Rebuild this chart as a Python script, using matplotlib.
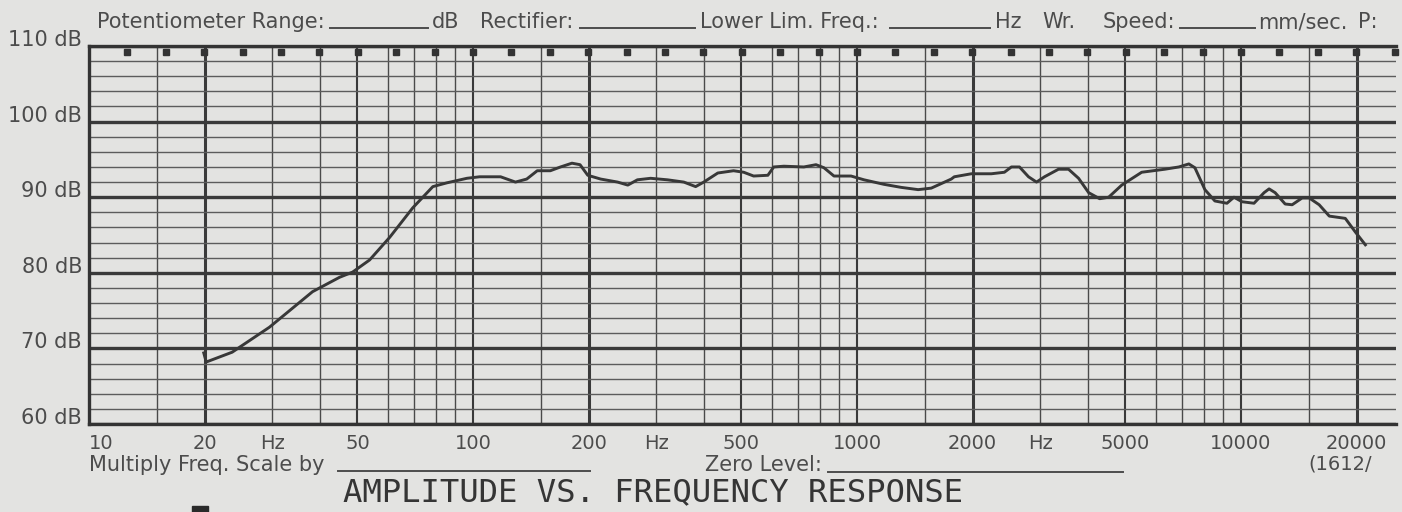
import numpy as np
import matplotlib.pyplot as plt
from matplotlib.lines import Line2D
from matplotlib.patches import Rectangle

# chart-recorder trace
freq_hz = [19.9, 20.2, 23.6, 29.5, 38.2, 44.9, 48.6, 53.8, 60.7, 69.7, 78.6, 85.5,
           96.4, 104, 118, 129, 138, 147, 159, 169, 181, 190, 199, 215, 238, 253,
           268, 290, 321, 354, 380, 399, 434, 477, 507, 538, 586, 607, 645, 727,
           782, 820, 871, 965, 1043, 1176, 1303, 1443, 1561, 1760, 1792, 1985,
           2238, 2420, 2524, 2649, 2797, 2934, 3078, 3348, 3555, 3776, 4011,
           4285, 4523, 4891, 5513, 6332, 6888, 7314, 7584, 8054, 8551, 9192,
           9588, 10060, 10812, 11484, 11834, 12270, 13030, 13590, 14430, 15050,
           15980, 16980, 18690, 19850, 21080]
level_db = [69.4, 68.2, 69.5, 72.8, 77.5, 79.4, 80.1, 81.7, 84.7, 88.6, 91.4, 91.9,
            92.5, 92.7, 92.7, 92.0, 92.4, 93.5, 93.5, 94.0, 94.5, 94.3, 92.9, 92.4,
            92.0, 91.6, 92.3, 92.5, 92.3, 92.0, 91.4, 92.0, 93.2, 93.5, 93.3, 92.8,
            92.9, 94.0, 94.1, 94.0, 94.3, 93.9, 92.8, 92.8, 92.3, 91.7, 91.3, 91.0,
            91.2, 92.4, 92.7, 93.1, 93.1, 93.3, 94.0, 94.0, 92.7, 92.0, 92.7, 93.7,
            93.7, 92.5, 90.6, 89.8, 90.0, 91.6, 93.3, 93.7, 94.0, 94.4, 93.9, 91.0,
            89.5, 89.2, 90.0, 89.4, 89.2, 90.6, 91.1, 90.6, 89.1, 89.0, 89.9, 89.9,
            89.0, 87.5, 87.2, 85.4, 83.7]

tick_freqs = [10, 20, 30, 50, 100, 200, 300, 500, 1000, 2000, 3000, 5000, 10000, 20000]
tick_labels = ['10', '20', 'Hz', '50', '100', '200', 'Hz', '500', '1000', '2000', 'Hz',
               '5000', '10000', '20000']
db_ticks = [60, 70, 80, 90, 100, 110]
db_labels = ['60 dB', '70 dB', '80 dB', '90 dB', '100 dB', '110 dB']

W, H = 1402, 512
paper = '#e3e3e1'
ink = '#3a3a3a'
txt = '#4c4c4c'

fig = plt.figure(figsize=(W / 100, H / 100), dpi=100, facecolor=paper)
x0, x1, ytop, ybot = 89, 1396, 46, 424
ax = fig.add_axes([x0 / W, 1 - ybot / H, (x1 - x0) / W, (ybot - ytop) / H])
ax.set_facecolor(paper)
ax.set_xscale('log')
ax.set_xlim(10, 10 ** (1 + (x1 - x0) / 384))
ax.set_ylim(60, 110)

# printed grid of the recorder paper
for dec in [10, 100, 1000, 10000]:
    for m in [1, 1.5, 2, 3, 4, 5, 6, 7, 8, 9]:
        f = dec * m
        if f > 25000:
            continue
        if m == 2:
            ax.axvline(f, color=ink, lw=2.2, zorder=1)
        elif m in (1, 5):
            ax.axvline(f, color=ink, lw=1.5, zorder=1)
        else:
            ax.axvline(f, color='#4a4a4a', lw=1.0, zorder=1)
for d in range(60, 111, 2):
    if d % 10 == 0:
        ax.axhline(d, color=ink, lw=2.4, zorder=1)
    else:
        ax.axhline(d, color='#5c5c5c', lw=1.0, zorder=1)

# little marks hanging from the top border
marks = 10 ** (1 + np.arange(1, 35) / 10)
ax.plot(marks, np.full(len(marks), 109.25), ls='none', marker='s', ms=4.6,
        color='#333333', clip_on=False, zorder=3)

ax.plot(freq_hz, level_db, color='#383838', lw=2.1, zorder=4)

for s in ['left', 'top', 'bottom']:
    ax.spines[s].set_linewidth(2.4)
    ax.spines[s].set_color('#333333')
ax.spines['right'].set_visible(False)

ax.set_xticks(tick_freqs)
ax.set_xticklabels(tick_labels)
ax.xaxis.set_minor_locator(plt.NullLocator())
ax.set_yticks(db_ticks)
ax.set_yticklabels(db_labels)
ax.tick_params(axis='x', length=0, pad=7, labelsize=14, labelcolor=txt)
ax.tick_params(axis='y', length=0, pad=5, labelsize=15, labelcolor=txt)
for lab in ax.get_yticklabels():
    lab.set_verticalalignment('baseline')
ax.get_xticklabels()[0].set_horizontalalignment('left')


def ftext(x, y, s, **kw):
    kw.setdefault('fontsize', 15)
    kw.setdefault('color', txt)
    kw.setdefault('va', 'baseline')
    fig.text(x / W, 1 - y / H, s, **kw)


def uline(xa, xb, y):
    fig.add_artist(Line2D([xa / W, xb / W], [1 - y / H, 1 - y / H],
                          color=txt, lw=1.4, transform=fig.transFigure))


# header row
ftext(97, 28, 'Potentiometer Range:')
uline(330, 428, 28)
ftext(432, 28, 'dB')
ftext(480, 28, 'Rectifier:')
uline(580, 695, 28)
ftext(700, 28, 'Lower Lim. Freq.:')
uline(890, 990, 28)
ftext(995, 28, 'Hz')
ftext(1042, 28, 'Wr.')
ftext(1103, 28, 'Speed:')
uline(1180, 1255, 28)
ftext(1258, 28, 'mm/sec.')
ftext(1358, 28, 'P:')

# footer rows
ftext(89, 471, 'Multiply Freq. Scale by')
uline(338, 590, 471)
ftext(705, 471, 'Zero Level:')
uline(828, 1123, 472)
ftext(1308, 469, '(1612/', fontsize=14)
ftext(343, 501, 'AMPLITUDE VS. FREQUENCY RESPONSE', family='DejaVu Sans Mono',
      fontsize=23.2, color='#353535')

fig.add_artist(Rectangle((192 / W, 0), 16 / W, 6 / H, transform=fig.transFigure,
                         color='#2a2a2a'))

fig.savefig('out.png', dpi=100, facecolor=paper)
